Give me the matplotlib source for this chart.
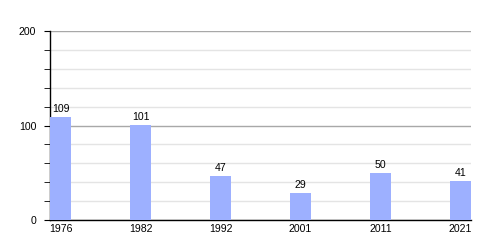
import matplotlib
matplotlib.use("Agg")
import matplotlib.pyplot as plt
from matplotlib.ticker import MultipleLocator

years = ["1976", "1982", "1992", "2001", "2011", "2021"]
values = [109, 101, 47, 29, 50, 41]

plt.rcParams['font.family'] = ['Liberation Sans', 'DejaVu Sans']

fig = plt.figure(figsize=(5, 2.5), dpi=100)
W, H = 500, 250
ax = fig.add_axes([50 / W, 1 - 220 / H, 421 / W, 189 / H])

w = 21 / 80
x = list(range(len(years)))
ax.bar(x, values, width=w, color="#9db0ff", zorder=3)
for xi, v in zip(x, values):
    ax.text(xi, v + 3, str(v), ha="center", va="bottom", fontsize=7.6, color="black", zorder=4)

ax.set_xlim(-w / 2, len(years) - 1 + w / 2)
ax.set_ylim(0, 200)
ax.set_xticks(x)
ax.set_xticklabels(years)
ax.yaxis.set_major_locator(MultipleLocator(100))
ax.yaxis.set_minor_locator(MultipleLocator(20))
ax.grid(which="major", axis="y", color="#a8a8a8", linewidth=1, zorder=1)
ax.grid(which="minor", axis="y", color="#e4e4e4", linewidth=1, zorder=0)
ax.set_axisbelow(True)

for s in ["top", "right"]:
    ax.spines[s].set_visible(False)
ax.spines["left"].set_color("black")
ax.spines["bottom"].set_color("black")
ax.spines["left"].set_linewidth(1)
ax.spines["bottom"].set_linewidth(1)

ax.tick_params(axis="x", length=0, labelsize=7.6, pad=3)
ax.tick_params(axis="y", which="major", length=4, labelsize=7.6, pad=6)
ax.tick_params(axis="y", which="minor", length=4)

fig.savefig("out.png", dpi=100)
